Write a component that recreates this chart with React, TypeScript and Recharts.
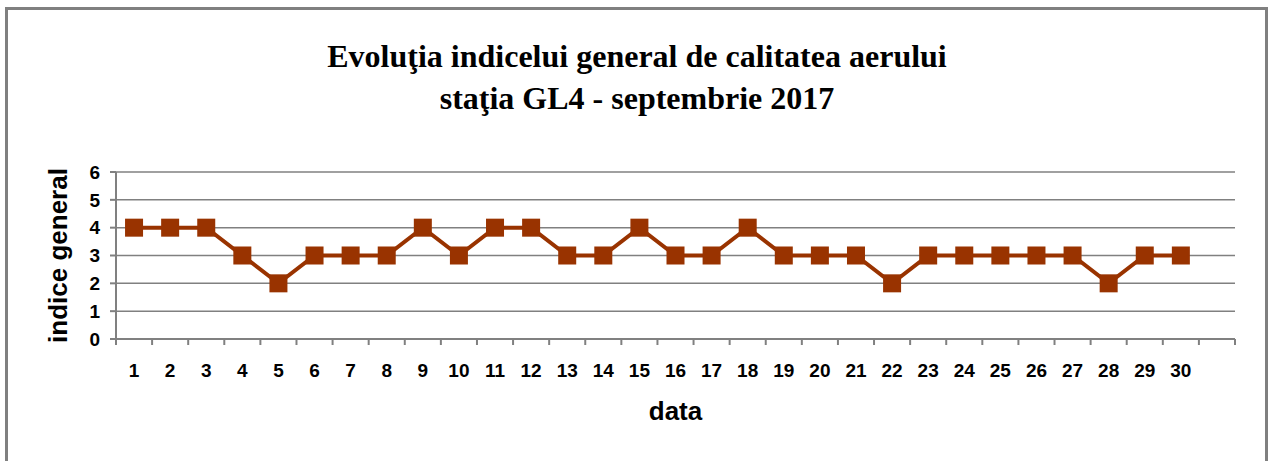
import React from 'react';
import { LineChart, Line, XAxis, YAxis, CartesianGrid, Label } from 'recharts';

const days = [1, 2, 3, 4, 5, 6, 7, 8, 9, 10, 11, 12, 13, 14, 15, 16, 17, 18, 19, 20, 21, 22, 23, 24, 25, 26, 27, 28, 29, 30];
const indexValues = [4, 4, 4, 3, 2, 3, 3, 3, 4, 3, 4, 4, 3, 3, 4, 3, 3, 4, 3, 3, 3, 2, 3, 3, 3, 3, 3, 2, 3, 3];
const yTicks = [0, 1, 2, 3, 4, 5, 6];
const titleLines = ['Evoluţia indicelui general de calitatea aerului', 'staţia GL4 - septembrie 2017'];
const yAxisTitle = 'indice general';
const xAxisTitle = 'data';

const data = days.map((d, i) => ({ day: d, value: indexValues[i] }));
// band edges for tick marks (one extra empty band after day 30)
const bandEdges = [0, ...days, days.length + 1].map((d) => d + 0.5);
const xTicks = [...bandEdges, ...days].sort((a, b) => a - b);

const GRAY = '#808080';
const BROWN = '#993300';
const SANS = '"Liberation Sans", Arial, sans-serif';
const SERIF = '"Liberation Serif", "Times New Roman", serif';

const XTick = (props: any) => {
  const { x, y, payload } = props;
  const v = payload.value;
  if (Number.isInteger(v)) {
    return (
      <text x={x} y={y + 37.5} textAnchor="middle" fontFamily={SANS} fontWeight="bold" fontSize={19} fill="#000">
        {v}
      </text>
    );
  }
  return <line x1={x} x2={x} y1={y} y2={y + 6} stroke={GRAY} strokeWidth={2} />;
};

const SquareDot = (props: any) => {
  const { cx, cy, index } = props;
  if (cx == null || cy == null) return null;
  return <rect key={`d${index}`} x={cx - 9} y={cy - 9} width={18} height={18} fill={BROWN} />;
};

export default function App() {
  return (
    <div style={{ position: 'absolute', left: 0, top: 0, width: 1269, height: 461, overflow: 'hidden', background: '#fff' }}>
      <div
        style={{
          position: 'absolute',
          left: 5,
          top: 7,
          width: 1257,
          height: 520,
          border: `3px solid ${GRAY}`,
        }}
      />
      <div style={{ position: 'absolute', left: 0, top: 0 }}>
        <LineChart width={1269} height={461} data={data} margin={{ top: 172, right: 34, left: 56, bottom: 82 }}>
          <CartesianGrid vertical={false} stroke={GRAY} strokeWidth={1.5} />
          <XAxis
            dataKey="day"
            type="number"
            domain={[0.5, days.length + 1.5]}
            ticks={xTicks}
            interval={0}
            tickLine={false}
            tickSize={0}
            tickMargin={0}
            height={40}
            axisLine={{ stroke: GRAY, strokeWidth: 2 }}
            tick={(p: any) => <XTick {...p} />}
          >
            <Label
              content={(p: any) => {
                const vb = p.viewBox;
                return (
                  <text x={vb.x + vb.width / 2} y={vb.y + 81} textAnchor="middle" fontFamily={SANS} fontWeight="bold" fontSize={26} fill="#000">
                    {xAxisTitle}
                  </text>
                );
              }}
            />
          </XAxis>
          <YAxis
            domain={[0, 6]}
            ticks={yTicks}
            interval={0}
            width={60}
            tickSize={6}
            tickMargin={10}
            tickLine={{ stroke: GRAY, strokeWidth: 2 }}
            axisLine={{ stroke: GRAY, strokeWidth: 2 }}
            tick={{ fontFamily: SANS, fontWeight: 'bold', fontSize: 19, fill: '#000' }}
          >
            <Label
              content={(p: any) => {
                const vb = p.viewBox;
                const cx = vb.x + 10.5;
                const cy = vb.y + vb.height / 2;
                return (
                  <text
                    x={cx}
                    y={cy}
                    transform={`rotate(-90, ${cx}, ${cy})`}
                    textAnchor="middle"
                    fontFamily={SANS}
                    fontWeight="bold"
                    fontSize={26}
                    fill="#000"
                  >
                    {yAxisTitle}
                  </text>
                );
              }}
            />
          </YAxis>
          <YAxis
            yAxisId="r"
            orientation="right"
            domain={[0, 6]}
            width={0}
            tick={false}
            tickLine={false}
            axisLine={{ stroke: GRAY, strokeWidth: 2 }}
          />
          <Line
            type="linear"
            dataKey="value"
            stroke={BROWN}
            strokeWidth={4}
            dot={(p: any) => <SquareDot {...p} />}
            activeDot={false}
            isAnimationActive={false}
          />
        </LineChart>
      </div>
      <svg width={1269} height={461} style={{ position: 'absolute', left: 0, top: 0, pointerEvents: 'none' }}>
        {titleLines.map((t, i) => (
          <text key={i} x={637} y={67 + i * 42} textAnchor="middle" fontFamily={SERIF} fontWeight="bold" fontSize={32} fill="#000">
            {t}
          </text>
        ))}
      </svg>
    </div>
  );
}
